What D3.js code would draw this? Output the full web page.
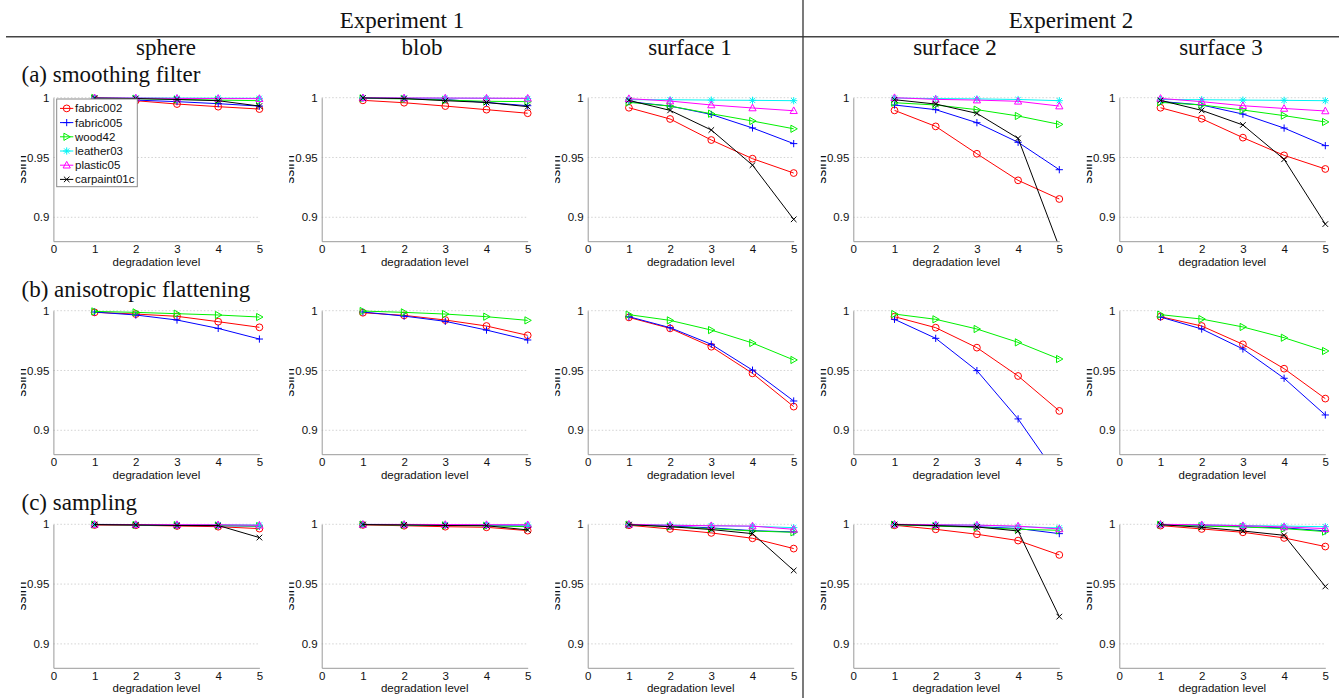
<!DOCTYPE html>
<html>
<head>
<meta charset="utf-8">
<script src="https://cdn.jsdelivr.net/npm/d3@7"></script>
<style>
  html, body { margin: 0; padding: 0; background: #fff; }
  svg { display: block; }
</style>
</head>
<body>
<svg id="fig" width="1339" height="698"></svg>
<script>
// ---- data ----
const levels = [1, 2, 3, 4, 5];
const xTicks = [0, 1, 2, 3, 4, 5];
const yTicks = [0.9, 0.95, 1];
const yTickLabels = ["0.9", "0.95", "1"];
const materials = ["fabric002", "fabric005", "wood42", "leather03", "plastic05", "carpaint01c"];
const materialColors = ["#ff0000", "#0000ff", "#00f000", "#00f4f4", "#ff00ff", "#000000"];
const materialMarkers = ["o", "+", ">", "*", "^", "x"];
const experiments = ["Experiment 1", "Experiment 2"];
const shapes = ["sphere", "blob", "surface 1", "surface 2", "surface 3"];
const degradations = ["(a) smoothing filter", "(b) anisotropic flattening", "(c) sampling"];

// (a) smoothing filter: one row per material, levels 1..5
const smoothSphere = [
  [0.9990, 0.9975, 0.9947, 0.9925, 0.9905],
  [0.9995, 0.9980, 0.9967, 0.9950, 0.9930],
  [0.9998, 0.9992, 0.9985, 0.9980, 0.9975],
  [0.9999, 0.9998, 0.9997, 0.9996, 0.9995],
  [0.9999, 0.9997, 0.9994, 0.9993, 0.9992],
  [0.9997, 0.9993, 0.9985, 0.9975, 0.9930]
];
const smoothBlob = [
  [0.9978, 0.9958, 0.9930, 0.9900, 0.9870],
  [0.9997, 0.9993, 0.9985, 0.9960, 0.9933],
  [0.9995, 0.9990, 0.9980, 0.9970, 0.9967],
  [0.9998, 0.9997, 0.9996, 0.9995, 0.9993],
  [0.9999, 0.9998, 0.9997, 0.9996, 0.9995],
  [0.9998, 0.9993, 0.9975, 0.9960, 0.9925]
];
const smoothSurface1 = [
  [0.9916, 0.9822, 0.9646, 0.9490, 0.9370],
  [0.9967, 0.9930, 0.9860, 0.9747, 0.9616],
  [0.9961, 0.9930, 0.9866, 0.9805, 0.9740],
  [0.9983, 0.9983, 0.9980, 0.9978, 0.9975],
  [0.9992, 0.9972, 0.9939, 0.9914, 0.9891],
  [0.9978, 0.9894, 0.9730, 0.9436, 0.8983]
];
const smoothSurface2 = [
  [0.9894, 0.9760, 0.9531, 0.9309, 0.9153],
  [0.9939, 0.9900, 0.9791, 0.9627, 0.9398],
  [0.9958, 0.9939, 0.9900, 0.9847, 0.9777],
  [0.9997, 0.9993, 0.9990, 0.9985, 0.9975],
  [1.0000, 0.9986, 0.9980, 0.9970, 0.9930],
  [0.9983, 0.9947, 0.9869, 0.9660, 0.8750]
];
const smoothSurface3 = [
  [0.9916, 0.9824, 0.9666, 0.9518, 0.9404],
  [0.9969, 0.9939, 0.9863, 0.9746, 0.9599],
  [0.9961, 0.9939, 0.9897, 0.9850, 0.9797],
  [0.9985, 0.9983, 0.9980, 0.9978, 0.9975],
  [0.9994, 0.9967, 0.9933, 0.9910, 0.9889],
  [0.9978, 0.9894, 0.9772, 0.9485, 0.8943]
];

// (b) anisotropic flattening: fabric002, fabric005, wood42 only
const flatSphere = [
  [0.9986, 0.9972, 0.9953, 0.9908, 0.9861],
  [0.9989, 0.9964, 0.9922, 0.9852, 0.9763],
  [0.9994, 0.9986, 0.9975, 0.9964, 0.9947]
];
const flatBlob = [
  [0.9983, 0.9961, 0.9922, 0.9872, 0.9794],
  [0.9989, 0.9955, 0.9911, 0.9838, 0.9755],
  [0.9997, 0.9986, 0.9972, 0.9950, 0.9919]
];
const flatSurface1 = [
  [0.9944, 0.9852, 0.9699, 0.9476, 0.9198],
  [0.9950, 0.9858, 0.9719, 0.9503, 0.9245],
  [0.9967, 0.9919, 0.9838, 0.9730, 0.9588]
];
const flatSurface2 = [
  [0.9950, 0.9858, 0.9691, 0.9454, 0.9162],
  [0.9928, 0.9769, 0.9499, 0.9095, 0.8600],
  [0.9972, 0.9928, 0.9847, 0.9735, 0.9596]
];
const flatSurface3 = [
  [0.9950, 0.9872, 0.9719, 0.9515, 0.9265],
  [0.9947, 0.9847, 0.9680, 0.9435, 0.9128],
  [0.9967, 0.9930, 0.9864, 0.9774, 0.9663]
];

// (c) sampling
const sampSphere = [
  [0.9994, 0.9992, 0.9986, 0.9980, 0.9964],
  [0.9998, 0.9995, 0.9990, 0.9988, 0.9985],
  [0.9998, 0.9995, 0.9993, 0.9990, 0.9985],
  [0.9999, 0.9998, 0.9997, 0.9996, 0.9994],
  [0.9999, 0.9998, 0.9997, 0.9996, 0.9992],
  [0.9998, 0.9995, 0.9990, 0.9990, 0.9889]
];
const sampBlob = [
  [0.9995, 0.9988, 0.9980, 0.9975, 0.9947],
  [0.9998, 0.9996, 0.9993, 0.9990, 0.9985],
  [0.9998, 0.9994, 0.9991, 0.9988, 0.9980],
  [0.9999, 0.9998, 0.9997, 0.9996, 0.9995],
  [0.9999, 0.9999, 0.9998, 0.9997, 0.9996],
  [0.9998, 0.9995, 0.9990, 0.9988, 0.9953]
];
const sampSurface1 = [
  [0.9992, 0.9961, 0.9928, 0.9883, 0.9797],
  [0.9998, 0.9985, 0.9970, 0.9947, 0.9936],
  [0.9997, 0.9980, 0.9964, 0.9944, 0.9933],
  [0.9999, 0.9993, 0.9988, 0.9983, 0.9972],
  [1.0000, 0.9992, 0.9988, 0.9985, 0.9958],
  [0.9997, 0.9980, 0.9956, 0.9922, 0.9614]
];
const sampSurface2 = [
  [0.9992, 0.9958, 0.9917, 0.9864, 0.9744],
  [0.9998, 0.9990, 0.9980, 0.9965, 0.9922],
  [0.9997, 0.9985, 0.9975, 0.9958, 0.9950],
  [0.9999, 0.9995, 0.9993, 0.9980, 0.9970],
  [1.0000, 0.9996, 0.9993, 0.9985, 0.9961],
  [0.9998, 0.9989, 0.9978, 0.9944, 0.9228]
];
const sampSurface3 = [
  [0.9989, 0.9961, 0.9933, 0.9886, 0.9814],
  [0.9998, 0.9990, 0.9980, 0.9970, 0.9945],
  [0.9997, 0.9985, 0.9978, 0.9964, 0.9939],
  [0.9999, 0.9995, 0.9990, 0.9985, 0.9980],
  [1.0000, 0.9996, 0.9988, 0.9978, 0.9964],
  [0.9997, 0.9975, 0.9944, 0.9908, 0.9480]
];

const rows = [
  { series: [smoothSphere, smoothBlob, smoothSurface1, smoothSurface2, smoothSurface3], mats: [0, 1, 2, 3, 4, 5] },
  { series: [flatSphere, flatBlob, flatSurface1, flatSurface2, flatSurface3], mats: [0, 1, 2] },
  { series: [sampSphere, sampBlob, sampSurface1, sampSurface2, sampSurface3], mats: [0, 1, 2, 3, 4, 5] }
];

// ---- layout ----
const W = 1339, H = 698;
const colLeft = [53.4, 321.7, 587.7, 853.3, 1119.3];
const plotW = 206;
const rowTop = [97.7, 310.7, 524.3];
const plotH = 143.5;
const dividerX = 803;

const svg = d3.select("#fig");
const serif = "'Liberation Serif', 'Times New Roman', serif";
const sans = "'Liberation Sans', Arial, Helvetica, sans-serif";

// headers
svg.append("line").attr("x1", 6).attr("x2", W).attr("y1", 36.7).attr("y2", 36.7)
  .attr("stroke", "#444").attr("stroke-width", 1.4);
svg.append("line").attr("x1", dividerX).attr("x2", dividerX).attr("y1", 0).attr("y2", H)
  .attr("stroke", "#333").attr("stroke-width", 1.3);

const expCenters = [402, 1071];
experiments.forEach((t, i) => {
  svg.append("text").attr("x", expCenters[i]).attr("y", 28.3).attr("text-anchor", "middle")
    .attr("font-family", serif).attr("font-size", 23).attr("fill", "#111").text(t);
});
const shapeCenters = [166, 422, 690, 955, 1221];
shapes.forEach((t, i) => {
  svg.append("text").attr("x", shapeCenters[i]).attr("y", 55).attr("text-anchor", "middle")
    .attr("font-family", serif).attr("font-size", 23).attr("fill", "#111").text(t);
});
const rowLabelY = [81.7, 296.7, 510];
degradations.forEach((t, i) => {
  svg.append("text").attr("x", 21.5).attr("y", rowLabelY[i])
    .attr("font-family", serif).attr("font-size", 23).attr("fill", "#111").text(t);
});

// marker shapes
function markerPath(m) {
  switch (m) {
    case "+": return "M-3.6,0H3.6M0,-3.6V3.6";
    case "x": return "M-2.8,-2.8L2.8,2.8M-2.8,2.8L2.8,-2.8";
    case "*": return "M-3.6,0H3.6M0,-3.6V3.6M-2.6,-2.6L2.6,2.6M-2.6,2.6L2.6,-2.6";
    case ">": return "M-2.8,-3.6L3.6,0L-2.8,3.6Z";
    case "^": return "M0,-3.8L3.6,2.8L-3.6,2.8Z";
    default: return null;
  }
}
function drawMarker(g, m, color, x, y) {
  if (m === "o") {
    g.append("circle").attr("cx", x).attr("cy", y).attr("r", 3.4)
      .attr("fill", "none").attr("stroke", color).attr("stroke-width", 1);
  } else {
    g.append("path").attr("d", markerPath(m)).attr("transform", `translate(${x},${y})`)
      .attr("fill", "none").attr("stroke", color).attr("stroke-width", 1);
  }
}

const defs = svg.append("defs");
let clipId = 0;

rows.forEach((row, r) => {
  row.series.forEach((data, c) => {
    const x0 = colLeft[c], y0 = rowTop[r];
    const x = d3.scaleLinear().domain([0, 5]).range([x0, x0 + plotW]);
    const y = d3.scaleLinear().domain([0.88, 1]).range([y0 + plotH, y0]);
    const g = svg.append("g");

    // dotted grid at y ticks
    g.selectAll(".grid").data(yTicks).enter().append("line")
      .attr("x1", x(0)).attr("x2", x(5)).attr("y1", d => y(d)).attr("y2", d => y(d))
      .attr("stroke", "#c8c8c8").attr("stroke-width", 0.8).attr("stroke-dasharray", "1.5,2");

    // axes
    const yAxis = d3.axisLeft(y).tickValues(yTicks).tickSize(0).tickPadding(4)
      .tickFormat((d, i) => yTickLabels[i]);
    const gy = g.append("g").attr("transform", `translate(${x(0)},0)`).call(yAxis);
    const xAxis = d3.axisBottom(x).tickValues(xTicks).tickSize(0).tickPadding(4)
      .tickFormat(d3.format("d"));
    const gx = g.append("g").attr("transform", `translate(0,${y(0.88)})`).call(xAxis);
    [gx, gy].forEach(a => {
      a.select(".domain").attr("stroke", "#9a9a9a").attr("stroke-width", 1);
      a.selectAll("text").attr("font-family", sans).attr("font-size", 11.5).attr("fill", "#111");
    });

    // y label, partly hidden behind the neighbouring axes
    const cid = "ylab" + (clipId++);
    defs.append("clipPath").attr("id", cid).append("rect")
      .attr("x", x(0) - 32.5).attr("y", y0).attr("width", 12).attr("height", plotH);
    g.append("g").attr("clip-path", `url(#${cid})`)
      .append("text")
      .attr("transform", `translate(${x(0) - 27.5},${y0 + plotH / 2}) rotate(-90)`)
      .attr("text-anchor", "middle").attr("font-family", sans).attr("font-size", 14)
      .attr("fill", "#111").text("ssim");

    // plot area clip (only the bottom cuts off values below the range)
    const pid = "plot" + (clipId++);
    defs.append("clipPath").attr("id", pid).append("rect")
      .attr("x", x(0) - 10).attr("y", y0 - 10).attr("width", plotW + 20).attr("height", plotH + 10);
    const pg = g.append("g").attr("clip-path", `url(#${pid})`);

    const line = d3.line().x((d, i) => x(levels[i])).y(d => y(d));
    row.mats.forEach((m, k) => {
      const vals = data[k];
      const color = materialColors[m];
      pg.append("path").attr("d", line(vals)).attr("fill", "none")
        .attr("stroke", color).attr("stroke-width", 1);
      vals.forEach((v, i) => drawMarker(pg, materialMarkers[m], color, x(levels[i]), y(v)));
    });

    // x label
    g.append("text").attr("x", x(2.5)).attr("y", y(0.88) + 24.5).attr("text-anchor", "middle")
      .attr("font-family", sans).attr("font-size", 11.5).attr("fill", "#111").text("degradation level");

    // legend in the first panel
    if (r === 0 && c === 0) {
      const lg = svg.append("g");
      lg.append("rect").attr("x", 56.7).attr("y", 99).attr("width", 80.6).attr("height", 87.7)
        .attr("fill", "#fff").attr("stroke", "#8a8a8a").attr("stroke-width", 1);
      materials.forEach((name, i) => {
        const cy = 108.4 + i * 14.2;
        lg.append("line").attr("x1", 60).attr("x2", 73.3).attr("y1", cy).attr("y2", cy)
          .attr("stroke", materialColors[i]).attr("stroke-width", 1);
        drawMarker(lg, materialMarkers[i], materialColors[i], 66.7, cy);
        lg.append("text").attr("x", 75).attr("y", cy).attr("dy", "0.35em")
          .attr("font-family", sans).attr("font-size", 11.5).attr("fill", "#111").text(name);
      });
    }
  });
});
</script>
</body>
</html>
